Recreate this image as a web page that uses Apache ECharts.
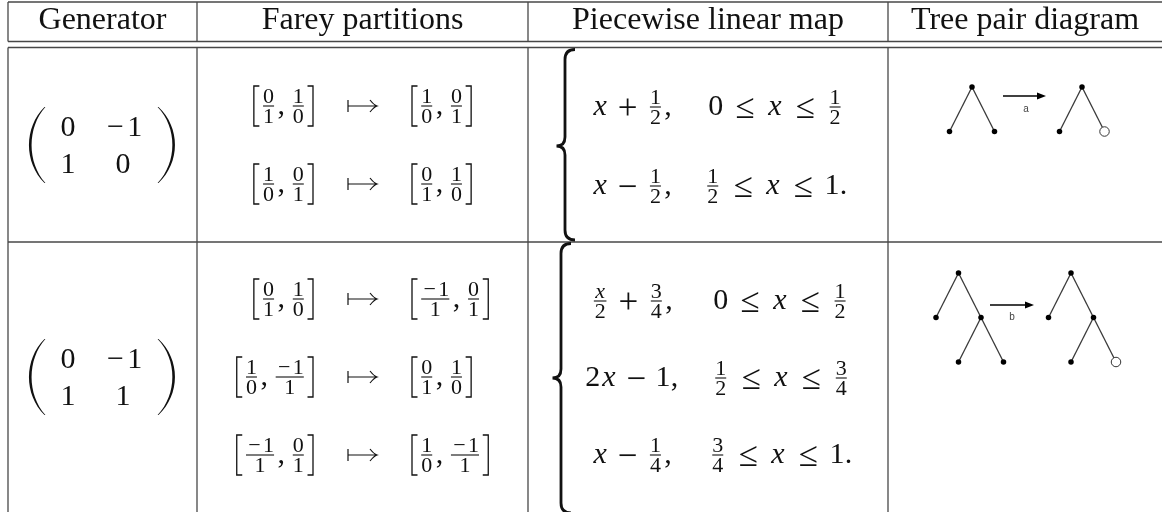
<!DOCTYPE html>
<html><head><meta charset="utf-8">
<script src="https://cdn.jsdelivr.net/npm/echarts@6/dist/echarts.min.js"></script>
<style>html,body{margin:0;padding:0;background:#fff}#c{width:1162px;height:512px}</style>
</head><body><div id="c"></div>
<script>
// ---------------- data ----------------
const headers = ['Generator', 'Farey partitions', 'Piecewise linear map', 'Tree pair diagram'];
const generatorRow1 = [['0', '−1'], ['1', '0']];
const generatorRow2 = [['0', '−1'], ['1', '1']];
const fareyRow1 = [
  [['0/1', '1/0'], ['1/0', '0/1']],
  [['1/0', '0/1'], ['0/1', '1/0']]
];
const fareyRow2 = [
  [['0/1', '1/0'], ['−1/1', '0/1']],
  [['1/0', '−1/1'], ['0/1', '1/0']],
  [['−1/1', '0/1'], ['1/0', '−1/1']]
];
const mapRow1 = [
  [['x', '+', '1/2', ','], ['0', '≤', 'x', '≤', '1/2']],
  [['x', '−', '1/2', ','], ['1/2', '≤', 'x', '≤', '1', '.']]
];
const mapRow2 = [
  [['x/2', '+', '3/4', ','], ['0', '≤', 'x', '≤', '1/2']],
  [['2', 'x', '−', '1', ','], ['1/2', '≤', 'x', '≤', '3/4']],
  [['x', '−', '1/4', ','], ['3/4', '≤', 'x', '≤', '1', '.']]
];
const treeNodesA = [[0, 0], [-1, 1], [1, 1]];
const treeLinksA = [[0, 1], [0, 2]];
const treeNodesB = [[0, 0], [-1, 1], [1, 1], [0, 2], [2, 2]];
const treeLinksB = [[0, 1], [0, 2], [2, 3], [2, 4]];
const treeLabels = ['a', 'b'];
const openLeafA = 2;
const openLeafB = 4;

// ---------------- custom path shape ----------------
echarts.graphic.registerShape('cmdPath', echarts.graphic.extendShape({
  type: 'cmdPath',
  shape: { cmds: [] },
  buildPath: function (c, shape) {
    (shape.cmds || []).forEach(function (k) {
      if (k[0] === 'M') c.moveTo(k[1], k[2]);
      else if (k[0] === 'L') c.lineTo(k[1], k[2]);
      else if (k[0] === 'Q') c.quadraticCurveTo(k[1], k[2], k[3], k[4]);
      else if (k[0] === 'C') c.bezierCurveTo(k[1], k[2], k[3], k[4], k[5], k[6]);
      else if (k[0] === 'Z') c.closePath();
    });
  }
}));

// ---------------- typesetting helpers ----------------
const SERIF = '"Liberation Serif","Times New Roman",serif';
const SANS = '"Liberation Sans","DejaVu Sans",Arial,sans-serif';
const M = 30, S = 22, HEAD = 32, OPS = 35;
const INK = '#111';
const RULE = '#474747';
const ctx = document.createElement('canvas').getContext('2d');
function fnt(size, it) { return (it ? 'italic ' : '') + size + 'px ' + SERIF; }
const offCache = {};
function mid2base(f) {
  if (offCache[f] != null) return offCache[f];
  ctx.font = f; ctx.textBaseline = 'alphabetic';
  const a = ctx.measureText('H').actualBoundingBoxAscent;
  ctx.textBaseline = 'middle';
  const m = ctx.measureText('H').actualBoundingBoxAscent;
  ctx.textBaseline = 'alphabetic';
  return (offCache[f] = a - m);
}
function tw(s, f) { ctx.font = f; ctx.textBaseline = 'alphabetic'; return ctx.measureText(s).width; }
function glyphBox(s, f) { ctx.font = f; ctx.textBaseline = 'alphabetic'; const m = ctx.measureText(s); return { asc: m.actualBoundingBoxAscent, desc: m.actualBoundingBoxDescent, l: m.actualBoundingBoxLeft, r: m.actualBoundingBoxRight }; }
function DH(size) { return glyphBox('0', fnt(size)).asc; }
const G = [];
function text(x, base, s, f, fill) {
  G.push({ type: 'text', silent: true, x: x, y: base - mid2base(f),
    style: { text: s, font: f, fill: fill || INK, align: 'left', verticalAlign: 'middle',
      textAlign: 'left', textVerticalAlign: 'middle' } });
}
function line(x1, y1, x2, y2, w, c) {
  G.push({ type: 'line', silent: true, shape: { x1, y1, x2, y2 }, style: { stroke: c || INK, lineWidth: w || 1 } });
}
function path(cmds, style) { G.push({ type: 'cmdPath', silent: true, shape: { cmds: cmds }, style: style }); }

const EM = { '0': 0.5, '1': 0.5, '2': 0.5, '3': 0.5, '4': 0.5, 'x': 0.572, '−': 0.778, ',': 0.278, '.': 0.278 };
function mwidth(s, size) { let w = 0; for (const ch of s) w += EM[ch] * size; return w; }
function mstr(x, B, s, size) {
  for (const ch of s) {
    const box = EM[ch] * size;
    const f = fnt(size, ch === 'x');
    const g = tw(ch, f);
    const gx = (ch === ',' || ch === '.') ? x + (box - g) * 0.3 : x + (box - g) / 2;
    text(gx, B, ch, f);
    x += box;
  }
}
const AX = 0.25 * M;          // math axis height
const ND = 3.2;               // null delimiter space
const BIN = 38;
const REL = 43;
const DHS = DH(S), DHM = DH(M);
function fracDims(n, d) {
  const wn = mwidth(n, S), wd = mwidth(d, S), w = Math.max(wn, wd);
  return { wn, wd, w, box: w + 2 * ND };
}
function drawFrac(x, A, n, d) {
  const k = fracDims(n, d), bx = x + ND;
  line(bx, A, bx + k.w, A, 1.1, INK);
  mstr(bx + (k.w - k.wn) / 2, A - 3, n, S);
  mstr(bx + (k.w - k.wd) / 2, A + 3 + DHS, d, S);
  return k.box;
}
function tokW(t) {
  if (t.indexOf('/') > 0) { const p = t.split('/'); return fracDims(p[0], p[1]).box; }
  if (t === '+' || t === '−') return BIN;
  if (t === '≤') return REL;
  return mwidth(t, M);
}
function drawOp(x, w, A, t) {
  const f = fnt(OPS);
  const b = glyphBox(t, f);
  const gw = b.l + b.r;
  const B = A + (b.asc - b.desc) / 2;
  text(x + (w - gw) / 2 + b.l, B, t, f);
}
function drawTok(x, A, t) {
  const w = tokW(t);
  if (t.indexOf('/') > 0) { const p = t.split('/'); drawFrac(x, A, p[0], p[1]); }
  else if (t === '+' || t === '−' || t === '≤') drawOp(x, w, A, t);
  else mstr(x, A + AX, t, M);
  return w;
}
function toksW(ts) { return ts.reduce((s, t) => s + tokW(t), 0); }
function drawToks(x, A, ts) { for (const t of ts) x += drawTok(x, A, t); }

// Farey interval [a, b] with \left[ \right]
const BRW = 8, BRH = 20;
function intervalW(pair) {
  const a = pair[0].split('/'), b = pair[1].split('/');
  return BRW + fracDims(a[0], a[1]).box + EM[','] * M + 4 + fracDims(b[0], b[1]).box + BRW;
}
const stroke = (w) => ({ stroke: INK, lineWidth: w, fill: null });
function drawInterval(x, A, pair) {
  const a = pair[0].split('/'), b = pair[1].split('/');
  const w = intervalW(pair);
  path([['M', x + 7.5, A - BRH], ['L', x + 2, A - BRH], ['L', x + 2, A + BRH], ['L', x + 7.5, A + BRH]], stroke(1.3));
  let cx = x + BRW;
  cx += drawFrac(cx, A, a[0], a[1]);
  mstr(cx, A + AX, ',', M); cx += EM[','] * M + 4;
  drawFrac(cx, A, b[0], b[1]);
  const rx = x + w;
  path([['M', rx - 7.5, A - BRH], ['L', rx - 2, A - BRH], ['L', rx - 2, A + BRH], ['L', rx - 7.5, A + BRH]], stroke(1.3));
}
function mapsto(x0, x1, A) {
  path([['M', x0, A - 6], ['L', x0, A + 6], ['M', x0, A], ['L', x1, A],
    ['M', x1 - 7, A - 6], ['Q', x1 - 3, A - 1, x1, A], ['Q', x1 - 3, A + 1, x1 - 7, A + 6]], stroke(1.2));
}
function brace(sx, top, bot, mid) {
  const hx = sx + 10, tx = sx - 8.5;
  path([['M', hx, top], ['Q', sx, top, sx, top + 10], ['L', sx, mid - 9], ['Q', sx, mid, tx, mid],
    ['Q', sx, mid, sx, mid + 9], ['L', sx, bot - 10], ['Q', sx, bot, hx, bot]], stroke(2.8));
}
function paren(ex, bx, top, bot, dir) {
  const h = bot - top;
  const t = 2.6 * dir, e = 0.9 * dir;
  const c1 = (8 * bx - 2 * ex) / 6;
  const bi = bx + t, ei = ex + e;
  const c2 = (8 * bi - 2 * ei) / 6;
  path([['M', ex, top], ['C', c1, top + h * 0.27, c1, bot - h * 0.27, ex, bot], ['L', ei, bot],
    ['C', c2, bot - h * 0.27, c2, top + h * 0.27, ei, top], ['Z']], { fill: INK, stroke: null });
}
function matrix(C, rows) {
  const cols = [68, 123], dy = [-18.5, 18.5];
  rows.forEach((r, i) => r.forEach((s, j) => {
    const w = mwidth(s, M);
    mstr(cols[j] - w / 2, C + dy[i] + DHM / 2, s, M);
  }));
  paren(44.5, 29, C - 38, C + 38, 1);
  paren(158.5, 175, C - 38, C + 38, -1);
}

// ---------------- table rules ----------------
const colX = [8, 197, 528, 888];
const RIGHT = 1162, TOP = 2, H1 = 41.5, H2 = 47.5, SEP = 242, BOTTOM = 512;
[TOP, H1, H2, SEP].forEach(y => line(colX[0], y, RIGHT, y, 1.3, RULE));
colX.forEach(x => { line(x, TOP, x, H1, 1.3, RULE); line(x, H2, x, BOTTOM, 1.3, RULE); });

// headers
const headCenters = [(colX[0] + colX[1]) / 2, (colX[1] + colX[2]) / 2, (colX[2] + colX[3]) / 2, (colX[3] + RIGHT) / 2];
headers.forEach((h, i) => { const f = fnt(HEAD); text(headCenters[i] - tw(h, f) / 2, 28.5, h, f); });

// rows
const rowsCfg = [
  { C: 145, gen: generatorRow1, farey: fareyRow1, fA: [106, 184], map: mapRow1, mA: [107, 186], c2: 776, brace: [565, 49.5, 240, 146] },
  { C: 377, gen: generatorRow2, farey: fareyRow2, fA: [299, 377, 455], map: mapRow2, mA: [301, 378, 455], c2: 781, brace: [561, 243.5, 513, 378] }
];
rowsCfg.forEach(r => {
  matrix(r.C, r.gen);
  r.farey.forEach((m, i) => {
    const A = r.fA[i];
    drawInterval(315 - intervalW(m[0]), A, m[0]);
    mapsto(348, 377, A);
    drawInterval(410, A, m[1]);
  });
  brace(r.brace[0], r.brace[1], r.brace[2], r.brace[3]);
  r.map.forEach((m, i) => {
    const A = r.mA[i];
    drawToks(632 - toksW(m[0]) / 2, A, m[0]);
    drawToks(r.c2 - toksW(m[1]) / 2, A, m[1]);
  });
});

// ---------------- tree pair diagrams (graph series on hidden grids) ----------------
const UX = 22.5, UY = 44.5;
const treeCfg = [
  { nodes: treeNodesA, links: treeLinksA, open: openLeafA, roots: [972, 1082], top: 87, arrow: [1003, 1046, 96], label: [1026, 108] },
  { nodes: treeNodesB, links: treeLinksB, open: openLeafB, roots: [958.5, 1071], top: 273, arrow: [990, 1034, 305], label: [1012, 316] }
];
const grids = [], xAxes = [], yAxes = [], series = [];
treeCfg.forEach((t, ti) => {
  const xs = t.nodes.map(n => n[0]), ys = t.nodes.map(n => n[1]);
  const xmin = Math.min(...xs), xmax = Math.max(...xs), ymax = Math.max(...ys);
  t.roots.forEach((rx, side) => {
    const gi = grids.length;
    grids.push({ left: rx + xmin * UX, top: t.top, width: (xmax - xmin) * UX, height: ymax * UY, containLabel: false, show: false });
    xAxes.push({ type: 'value', gridIndex: gi, min: xmin, max: xmax, show: false });
    yAxes.push({ type: 'value', gridIndex: gi, min: 0, max: ymax, inverse: true, show: false });
    series.push({
      type: 'graph', coordinateSystem: 'cartesian2d', xAxisIndex: gi, yAxisIndex: gi,
      layout: 'none', silent: true, animation: false, symbol: 'circle', symbolSize: 5.5,
      itemStyle: { color: '#000' }, lineStyle: { color: '#3a3a3a', width: 1.3, opacity: 1, curveness: 0 },
      label: { show: false }, emphasis: { disabled: true },
      data: t.nodes.map((n, k) => (side === 1 && k === t.open)
        ? { value: n, symbolSize: 9.5, itemStyle: { color: '#fff', borderColor: '#333', borderWidth: 1 } }
        : { value: n }),
      links: t.links.map(l => ({ source: l[0], target: l[1] }))
    });
  });
  const [ax0, ax1, ay] = t.arrow;
  line(ax0, ay, ax1 - 6, ay, 1.3, '#000');
  path([['M', ax1, ay], ['L', ax1 - 9, ay - 3.5], ['L', ax1 - 9, ay + 3.5], ['Z']], { fill: '#000', stroke: null });
  const lf = '10px ' + SANS;
  text(t.label[0] - tw(treeLabels[ti], lf) / 2, t.label[1] + 3.5, treeLabels[ti], lf, '#444');
});

const chart = echarts.init(document.getElementById('c'), null, { renderer: 'canvas', width: 1162, height: 512 });
chart.setOption({
  animation: false,
  backgroundColor: '#fff',
  grid: grids, xAxis: xAxes, yAxis: yAxes, series: series,
  graphic: { elements: G }
});
</script></body></html>
